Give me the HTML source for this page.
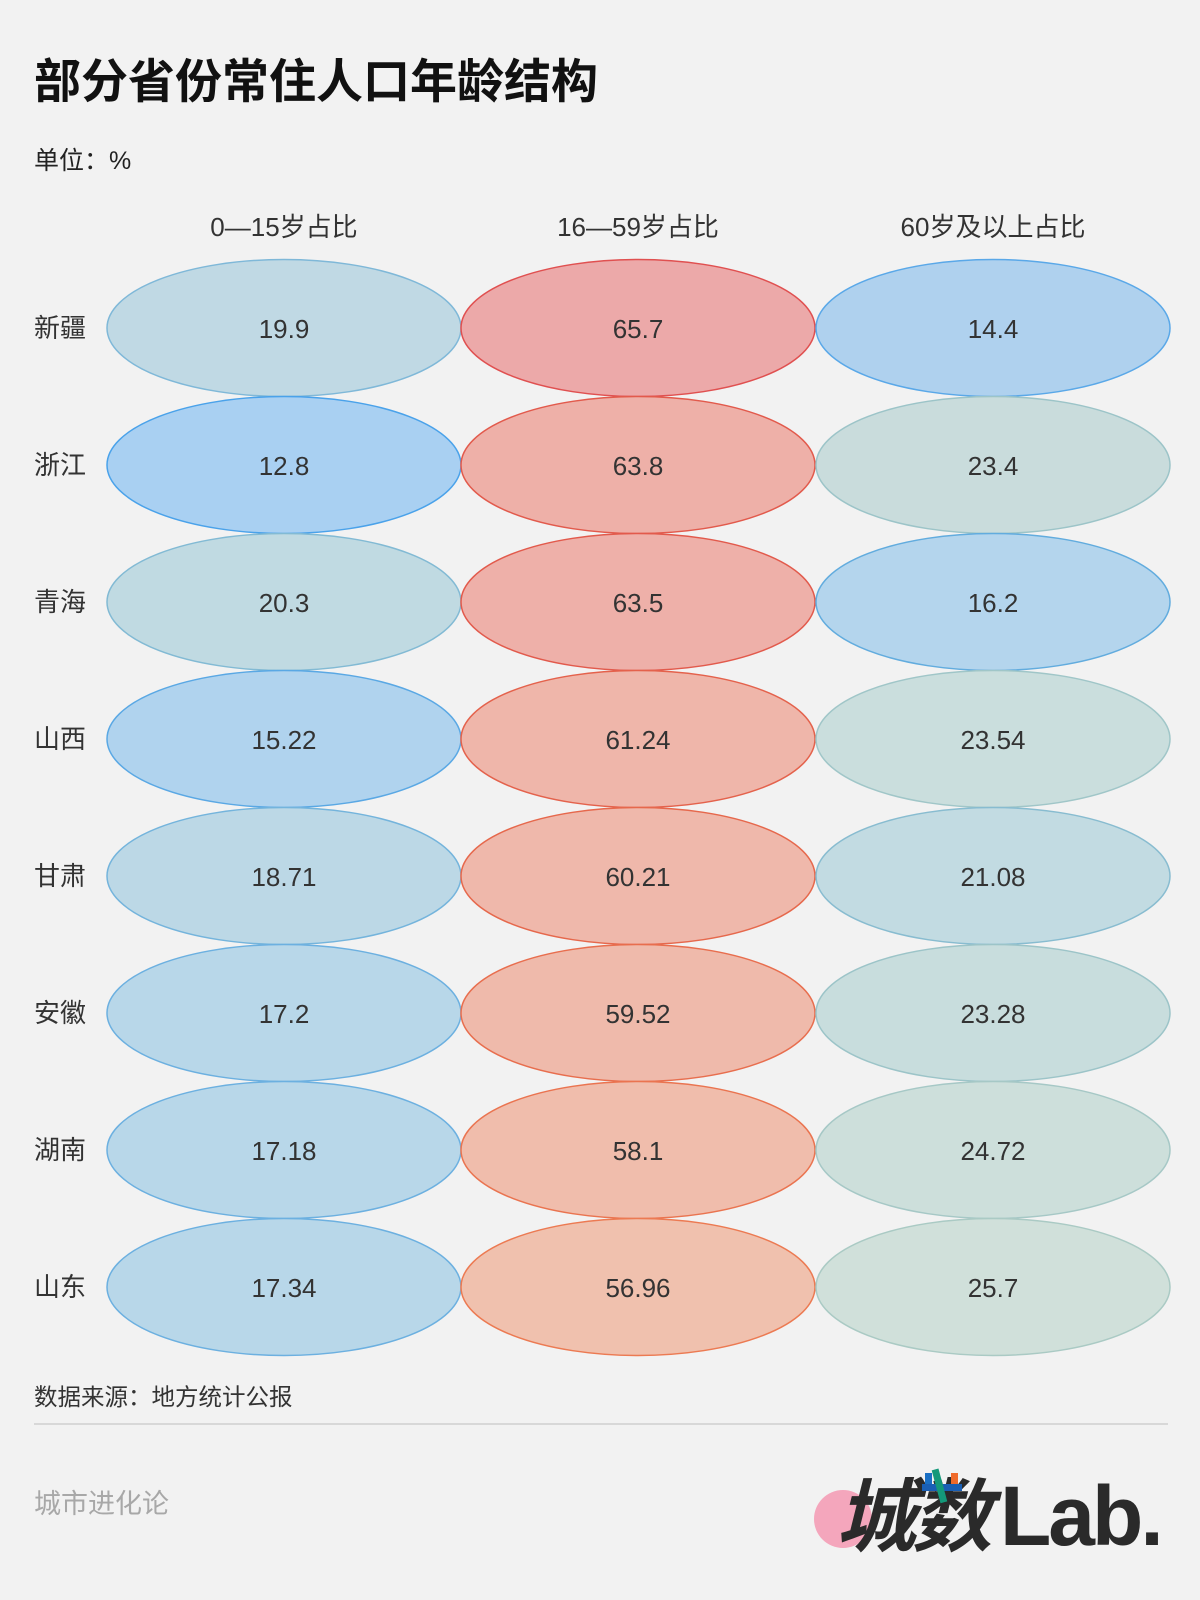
<!DOCTYPE html>
<html><head><meta charset="utf-8"><style>
html,body{margin:0;padding:0;background:#f2f2f2;}
svg{display:block;}
text{font-family:"Liberation Sans","Noto Sans CJK SC",sans-serif;}
</style></head><body>
<svg width="1200" height="1600" viewBox="0 0 1200 1600" xmlns="http://www.w3.org/2000/svg">
<rect width="1200" height="1600" fill="#f2f2f2"/>
<text x="34" y="98" font-size="47" font-weight="bold" fill="#111">部分省份常住人口年龄结构</text>
<text x="34" y="169" font-size="25" fill="#222">单位：%</text>
<g font-size="26" fill="#333" text-anchor="middle">
<text x="284" y="236">0—15岁占比</text>
<text x="638" y="236">16—59岁占比</text>
<text x="993" y="236">60岁及以上占比</text>
</g>
<g font-size="26" fill="#333">
<text x="34" y="337">新疆</text><text x="34" y="474">浙江</text><text x="34" y="611">青海</text><text x="34" y="748">山西</text>
<text x="34" y="885">甘肃</text><text x="34" y="1022">安徽</text><text x="34" y="1159">湖南</text><text x="34" y="1296">山东</text>
</g>
<g stroke-width="1.5">
<ellipse cx="284" cy="328" rx="177" ry="68.5" fill="#c0d9e4" stroke="#7fb8d8"/>
<ellipse cx="638" cy="328" rx="177" ry="68.5" fill="#eca9a9" stroke="#e05050"/>
<ellipse cx="993" cy="328" rx="177" ry="68.5" fill="#afd1ee" stroke="#5aa8e8"/>
<ellipse cx="284" cy="465" rx="177" ry="68.5" fill="#a9d0f2" stroke="#4aa2ea"/>
<ellipse cx="638" cy="465" rx="177" ry="68.5" fill="#eeb0a8" stroke="#e25a4c"/>
<ellipse cx="993" cy="465" rx="177" ry="68.5" fill="#c9dcdc" stroke="#9cc4c8"/>
<ellipse cx="284" cy="602" rx="177" ry="68.5" fill="#c0dae2" stroke="#82bad4"/>
<ellipse cx="638" cy="602" rx="177" ry="68.5" fill="#eeb0a9" stroke="#e25a4c"/>
<ellipse cx="993" cy="602" rx="177" ry="68.5" fill="#b4d5ed" stroke="#62acde"/>
<ellipse cx="284" cy="739" rx="177" ry="68.5" fill="#b0d3ee" stroke="#5aa8e4"/>
<ellipse cx="638" cy="739" rx="177" ry="68.5" fill="#efb6aa" stroke="#e4624c"/>
<ellipse cx="993" cy="739" rx="177" ry="68.5" fill="#cadedd" stroke="#a0c6c8"/>
<ellipse cx="284" cy="876" rx="177" ry="68.5" fill="#bcd8e6" stroke="#74b4dc"/>
<ellipse cx="638" cy="876" rx="177" ry="68.5" fill="#efb8ab" stroke="#e6684c"/>
<ellipse cx="993" cy="876" rx="177" ry="68.5" fill="#c2dbe2" stroke="#88bcd0"/>
<ellipse cx="284" cy="1013" rx="177" ry="68.5" fill="#b8d7e9" stroke="#6cb0e0"/>
<ellipse cx="638" cy="1013" rx="177" ry="68.5" fill="#efbaab" stroke="#e86e4e"/>
<ellipse cx="993" cy="1013" rx="177" ry="68.5" fill="#c8dddd" stroke="#9cc4c8"/>
<ellipse cx="284" cy="1150" rx="177" ry="68.5" fill="#b8d7e9" stroke="#6cb0e0"/>
<ellipse cx="638" cy="1150" rx="177" ry="68.5" fill="#f0bdac" stroke="#ea7450"/>
<ellipse cx="993" cy="1150" rx="177" ry="68.5" fill="#cddfdb" stroke="#a6c8c6"/>
<ellipse cx="284" cy="1287" rx="177" ry="68.5" fill="#b8d7e9" stroke="#6cb0e0"/>
<ellipse cx="638" cy="1287" rx="177" ry="68.5" fill="#f0c1ae" stroke="#ec7a52"/>
<ellipse cx="993" cy="1287" rx="177" ry="68.5" fill="#d0e0da" stroke="#aacac4"/>
</g>
<g font-size="26" fill="#333" text-anchor="middle">
<text x="284" y="338">19.9</text><text x="638" y="338">65.7</text><text x="993" y="338">14.4</text>
<text x="284" y="475">12.8</text><text x="638" y="475">63.8</text><text x="993" y="475">23.4</text>
<text x="284" y="612">20.3</text><text x="638" y="612">63.5</text><text x="993" y="612">16.2</text>
<text x="284" y="749">15.22</text><text x="638" y="749">61.24</text><text x="993" y="749">23.54</text>
<text x="284" y="886">18.71</text><text x="638" y="886">60.21</text><text x="993" y="886">21.08</text>
<text x="284" y="1023">17.2</text><text x="638" y="1023">59.52</text><text x="993" y="1023">23.28</text>
<text x="284" y="1160">17.18</text><text x="638" y="1160">58.1</text><text x="993" y="1160">24.72</text>
<text x="284" y="1297">17.34</text><text x="638" y="1297">56.96</text><text x="993" y="1297">25.7</text>
</g>
<text x="34" y="1405" font-size="23.5" fill="#333">数据来源：地方统计公报</text>
<line x1="34" y1="1424" x2="1168" y2="1424" stroke="#d8d8d8" stroke-width="2"/>
<text x="34" y="1513" font-size="27" fill="#a8a8a8">城市进化论</text>
<circle cx="843" cy="1519" r="29" fill="#f4a6bc"/>
<text x="836" y="1545" font-size="80" font-weight="bold" fill="#2a2a2a" font-style="italic" letter-spacing="-4">城数</text>
<text x="1000" y="1545" font-size="84" font-weight="bold" fill="#2a2a2a" letter-spacing="-3">Lab.</text>
<rect x="925" y="1473" width="7" height="14" fill="#1a6fc4"/>
<rect x="951" y="1473" width="7" height="14" fill="#f06a2a"/>
<rect x="922" y="1484" width="40" height="7" fill="#1a5fb4"/>
<rect x="936" y="1469" width="7" height="34" fill="#14997a" transform="rotate(-15 939 1486)"/>
</svg>
</body></html>
